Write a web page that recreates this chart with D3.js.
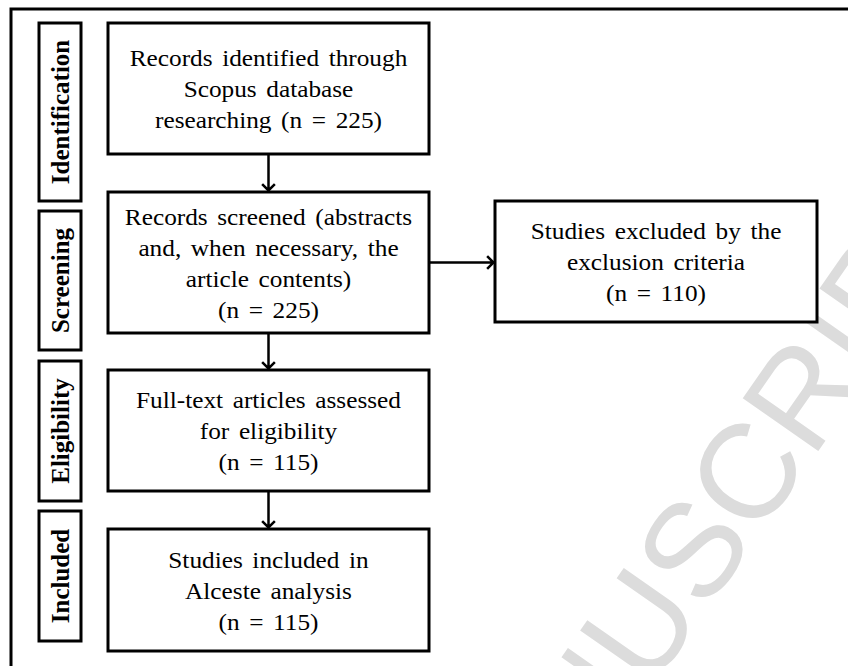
<!DOCTYPE html>
<html>
<head>
<meta charset="utf-8">
<script src="https://cdn.jsdelivr.net/npm/d3@7"></script>
<style>
  html, body { margin: 0; padding: 0; background: #fff; }
  svg { display: block; }
</style>
</head>
<body>
<svg id="chart" width="848" height="666"></svg>
<script>
// Stage labels (left column) and flow boxes
const stages = ['Identification', 'Screening', 'Eligibility', 'Included'];
const mainBoxes = [
    ['Records identified through', 'Scopus database', 'researching (n = 225)'],
    ['Records screened (abstracts', 'and, when necessary, the', 'article contents)', '(n = 225)'],
    ['Full-text articles assessed', 'for eligibility', '(n = 115)'],
    ['Studies included in', 'Alceste analysis', '(n = 115)']
];
const sideBox = ['Studies excluded by the', 'exclusion criteria', '(n = 110)'];
const watermark = 'ACCEPTED MANUSCRIPT';

// Layout (pixel bands for each row)
const stageBands = [[23, 201], [211, 350], [361, 501], [511, 641]];
const boxBands = [[23, 154], [192, 333], [370, 491], [529, 651]];
const stageX = [39, 81];
const boxX = [108, 429];
const sideX = [495, 817];
const sideY = [201, 322];

const svg = d3.select('#chart');
const serif = '"Liberation Serif", "Times New Roman", serif';
const lineH = 31;

// watermark sits behind everything, mostly off the page
svg.append('text')
    .attr('transform', 'translate(39,1564) rotate(-55)')
    .attr('font-family', '"Liberation Sans", Arial, sans-serif')
    .attr('font-size', 134)
    .attr('fill', '#dcdcdc')
    .text(watermark);

// outer frame (runs off the right and bottom edges)
svg.append('rect')
    .attr('x', 11).attr('y', 9)
    .attr('width', 900).attr('height', 800)
    .attr('fill', 'none')
    .attr('stroke', '#000')
    .attr('stroke-width', 3);

// stage label boxes
const sg = svg.append('g');
stages.forEach((s, i) => {
    const [y0, y1] = stageBands[i];
    sg.append('rect')
        .attr('x', stageX[0]).attr('y', y0)
        .attr('width', stageX[1] - stageX[0]).attr('height', y1 - y0)
        .attr('fill', '#fff').attr('stroke', '#000').attr('stroke-width', 3);
    const cx = (stageX[0] + stageX[1]) / 2 + 9;
    const cy = (y0 + y1) / 2;
    sg.append('text')
        .attr('transform', `translate(${cx},${cy}) rotate(-90)`)
        .attr('text-anchor', 'middle')
        .attr('font-family', serif)
        .attr('font-weight', 'bold')
        .attr('font-size', 25)
        .text(s);
});

function drawBox(x0, x1, y0, y1, lines) {
    const g = svg.append('g');
    g.append('rect')
        .attr('x', x0).attr('y', y0)
        .attr('width', x1 - x0).attr('height', y1 - y0)
        .attr('fill', '#fff').attr('stroke', '#000').attr('stroke-width', 3);
    const cx = (x0 + x1) / 2, cy = (y0 + y1) / 2;
    // the source text is slightly stretched sideways
    const t = g.append('text')
        .attr('transform', `translate(${cx},0) scale(1.1,1)`)
        .attr('text-anchor', 'middle')
        .attr('font-family', serif)
        .attr('font-size', 23)
        .attr('word-spacing', 3);
    lines.forEach((l, i) => {
        t.append('tspan')
            .attr('x', 0)
            .attr('y', cy + (i - (lines.length - 1) / 2) * lineH + 9)
            .text(l);
    });
}

mainBoxes.forEach((lines, i) => drawBox(boxX[0], boxX[1], boxBands[i][0], boxBands[i][1], lines));
drawBox(sideX[0], sideX[1], sideY[0], sideY[1], sideBox);

// arrows
function arrow(x1, y1, x2, y2) {
    const ang = Math.atan2(y2 - y1, x2 - x1);
    const h = 9, spread = Math.PI / 4;
    const p = d3.path();
    p.moveTo(x1, y1); p.lineTo(x2, y2);
    p.moveTo(x2 - h * Math.cos(ang - spread), y2 - h * Math.sin(ang - spread));
    p.lineTo(x2, y2);
    p.lineTo(x2 - h * Math.cos(ang + spread), y2 - h * Math.sin(ang + spread));
    svg.append('path')
        .attr('d', p.toString())
        .attr('fill', 'none')
        .attr('stroke', '#000')
        .attr('stroke-width', 2.5);
}

const midX = (boxX[0] + boxX[1]) / 2;
for (let i = 0; i < boxBands.length - 1; i++) {
    arrow(midX, boxBands[i][1], midX, boxBands[i + 1][0] - 1.5);
}
const midY = (boxBands[1][0] + boxBands[1][1]) / 2;
arrow(boxX[1], midY, sideX[0] - 1.5, midY);
</script>
</body>
</html>
